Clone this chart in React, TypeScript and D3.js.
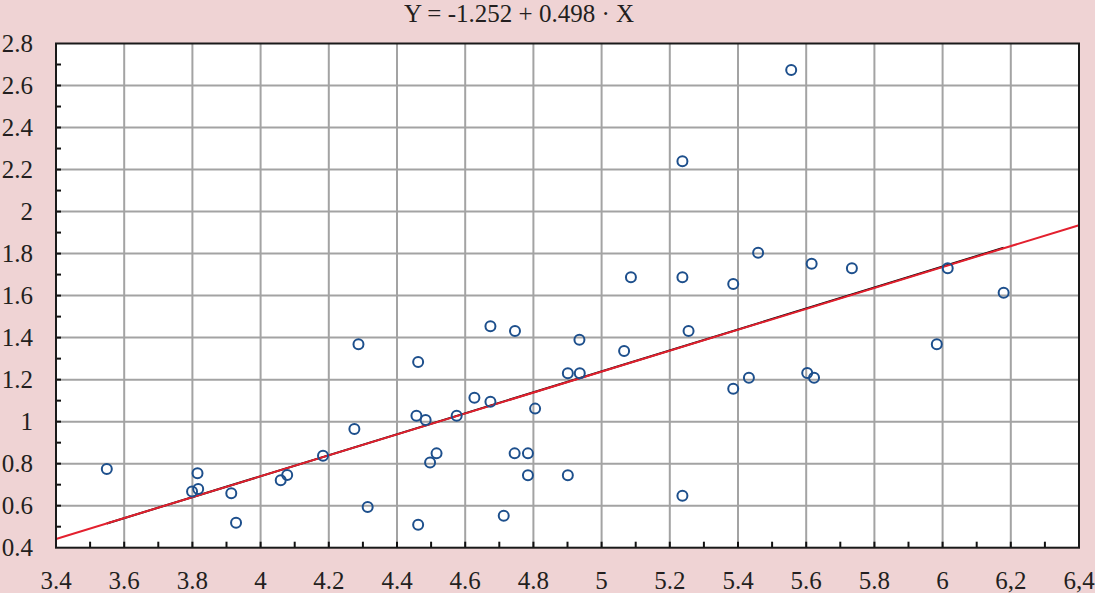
import React from "react";
import * as d3 from "d3";

// scatter data
const xValues = [
  3.549, 3.815, 3.799, 3.817, 3.914, 3.928, 4.059, 4.078, 4.183, 4.275,
  4.287, 4.314, 4.462, 4.457, 4.484, 4.516, 4.497, 4.462, 4.575, 4.627,
  4.674, 4.674, 4.746, 4.745, 4.784, 4.784, 4.713, 4.805, 4.901, 4.936,
  4.935, 4.901, 5.066, 5.255, 5.237, 5.386, 5.556, 5.237, 5.086, 5.237,
  5.386, 5.459, 5.616, 5.734, 6.015, 6.179, 5.432, 5.603, 5.623, 5.983,
];
const yValues = [
  0.775, 0.754, 0.668, 0.679, 0.659, 0.519, 0.721, 0.746, 0.838, 0.965,
  1.368, 0.594, 1.284, 1.028, 1.008, 0.849, 0.806, 0.509, 1.028, 1.114,
  1.095, 1.454, 1.431, 0.849, 0.849, 0.745, 0.552, 1.062, 1.23, 1.23,
  1.39, 0.745, 1.336, 1.431, 0.647, 1.157, 2.674, 2.239, 1.687, 1.687,
  1.655, 1.804, 1.752, 1.73, 1.73, 1.614, 1.209, 1.232, 1.209, 1.368,
];

const xTicks = [3.4, 3.6, 3.8, 4, 4.2, 4.4, 4.6, 4.8, 5, 5.2, 5.4, 5.6, 5.8, 6, 6.2, 6.4];
const xTickLabels = ["3.4", "3.6", "3.8", "4", "4.2", "4.4", "4.6", "4.8", "5", "5.2", "5.4", "5.6", "5.8", "6", "6,2", "6,4"];
const yTicks = [0.4, 0.6, 0.8, 1, 1.2, 1.4, 1.6, 1.8, 2, 2.2, 2.4, 2.6, 2.8];
const yTickLabels = ["0.4", "0.6", "0.8", "1", "1.2", "1.4", "1.6", "1.8", "2", "2.2", "2.4", "2.6", "2.8"];

// red: fit drawn over the full axis, black: fit over the data range
const fitIntercept = -1.252;
const fitSlope = 0.498;
const dataFitIntercept = -1.2556;
const dataFitSlope = 0.499;
const title = "Y = -1.252 + 0.498 · X";

const width = 1095;
const height = 593;
const margin = { top: 43.5, right: 16, bottom: 45.3, left: 56 };
const font = "Liberation Serif, Times New Roman, DejaVu Serif, serif";

const App = () => {
  const x = d3.scaleLinear().domain([3.4, 6.4]).range([margin.left, width - margin.right]);
  const y = d3.scaleLinear().domain([0.4, 2.8]).range([height - margin.bottom, margin.top]);

  const points = xValues.map((v, i) => ({ x: v, y: yValues[i] }));
  const line = d3.line<number[]>().x((d) => x(d[0])).y((d) => y(d[1]));

  const [xMin, xMax] = d3.extent(xValues) as [number, number];
  const dataFit = [xMin, xMax].map((v) => [v, dataFitIntercept + dataFitSlope * v]);
  const fullFit = x.domain().map((v) => [v, fitIntercept + fitSlope * v]);

  const xMinor = d3.range(3.5, 6.35, 0.1);
  const yMinor = d3.range(0.5, 2.75, 0.1);

  const x0 = x.range()[0];
  const x1 = x.range()[1];
  const y0 = y.range()[0];
  const y1 = y.range()[1];

  const textStyle = { fontFamily: font, fontSize: 25, fill: "#231f20" };

  return (
    <svg
      width={width}
      height={height}
      style={{ position: "absolute", left: 0, top: 0, display: "block" }}
    >
      <rect width={width} height={height} fill="#efd3d4" />
      <rect x={x0} y={y1} width={x1 - x0} height={y0 - y1} fill="#fff" />

      {/* grid */}
      {xTicks.slice(1, -1).map((t) => (
        <line key={"gx" + t} x1={x(t)} x2={x(t)} y1={y1} y2={y0} stroke="#a3a3a3" strokeWidth={2} />
      ))}
      {yTicks.slice(1, -1).map((t) => (
        <line key={"gy" + t} x1={x0} x2={x1} y1={y(t)} y2={y(t)} stroke="#a3a3a3" strokeWidth={2} />
      ))}

      {/* inner ticks */}
      {xMinor.map((t) => (
        <line key={"tx" + t} x1={x(t)} x2={x(t)} y1={y0} y2={y0 - 6} stroke="#111" strokeWidth={2} />
      ))}
      {yMinor.map((t) => (
        <line key={"ty" + t} x1={x0} x2={x0 + 5} y1={y(t)} y2={y(t)} stroke="#111" strokeWidth={2} />
      ))}

      {/* fit lines */}
      <path d={line(dataFit) || ""} fill="none" stroke="#000" strokeWidth={2} />
      <path d={line(fullFit) || ""} fill="none" stroke="#e3202e" strokeWidth={2} />

      {points.map((p, i) => (
        <circle key={i} cx={x(p.x)} cy={y(p.y)} r={5} fill="none" stroke="#1d4f8c" strokeWidth={2} />
      ))}

      <rect x={x0} y={y1} width={x1 - x0} height={y0 - y1} fill="none" stroke="#1a1a1a" strokeWidth={2} />

      {/* labels */}
      {yTicks.map((t, i) => (
        <text key={"ly" + t} x={33} y={y(t)} dy="0.34em" textAnchor="end" style={textStyle}>
          {yTickLabels[i]}
        </text>
      ))}
      {xTicks.map((t, i) => (
        <text key={"lx" + t} x={x(t)} y={589} textAnchor="middle" style={textStyle}>
          {xTickLabels[i]}
        </text>
      ))}
      <text x={519} y={22} textAnchor="middle" style={textStyle}>
        {title}
      </text>
    </svg>
  );
};

export default App;
